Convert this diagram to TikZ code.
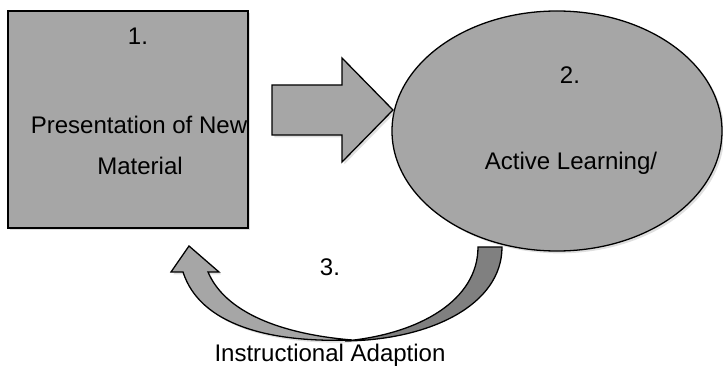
\documentclass[tikz,border=0pt]{standalone}
\usepackage{fontspec}
\setmainfont{Liberation Sans}
\usepackage{tikz}
\usetikzlibrary{positioning}
\usetikzlibrary{shapes.geometric,shadows}
\definecolor{fillgray}{RGB}{166,166,166}
\definecolor{foldgray}{RGB}{128,128,128}
\tikzset{
  part/.style={fill=fillgray, draw=black, line width=1.1pt, line join=miter},
  shade3d/.style={drop shadow={shadow xshift=0.07cm, shadow yshift=-0.07cm, opacity=0.25}},
  lbl/.style={font=\fontsize{20.5}{24}\selectfont, inner sep=0pt, anchor=base},
}

\begin{document}
\begin{tikzpicture}[x=0.03cm, y=-0.03cm]
    \useasboundingbox (0,0) rectangle (723,367);

    % 1. Presentation box (left)
    \node[part, shade3d, rectangle, inner sep=0pt,
          minimum width=7.2cm, minimum height=6.51cm] (pres) at (128,119.5) {};
    \node[lbl] (num1) at (138,45) {1.};
    \node[lbl] (presA) at (139,133) {Presentation of New};
    \node[lbl] (presB) at (140,174) {Material};

    % 2. Active learning ellipse (right)
    \node[part, shade3d, ellipse, inner sep=0pt,
          minimum width=9.9cm, minimum height=7.2cm] (learn) at (557,131) {};
    \node[lbl] (num2) at (570,83) {2.};
    \node[lbl] (learnA) at (571,169) {Active Learning/};

    % 3. Block arrow from box to ellipse
    \coordinate (tip) at (393,110);
    \draw[part, shade3d] (272,85) -- (342,85) -- (342,58) -- (tip)
        -- (342,162) -- (342,135) -- (272,135) -- cycle;

    % 4. Curved arrow back to the box (light band with head)
    \coordinate (back) at (189,246);
    \draw[part, shade3d] (171,272) -- (back) -- (219,272) -- (208,272)
        .. controls (225,312) and (280,334) .. (352,340)
        .. controls (270,343) and (200,325) .. (183,272) -- cycle;

    % dark underside of the curved arrow
    \draw[part, fill=foldgray] (478,247) -- (502,247)
        .. controls (502,305) and (430,340) .. (345,341)
        .. controls (420,334) and (478,300) .. (478,247) -- cycle;

    \node[lbl] (num3) at (330,275) {3.};
    \node[lbl] (adapt) at (330,361) {Instructional Adaption};
\end{tikzpicture}
\end{document}
